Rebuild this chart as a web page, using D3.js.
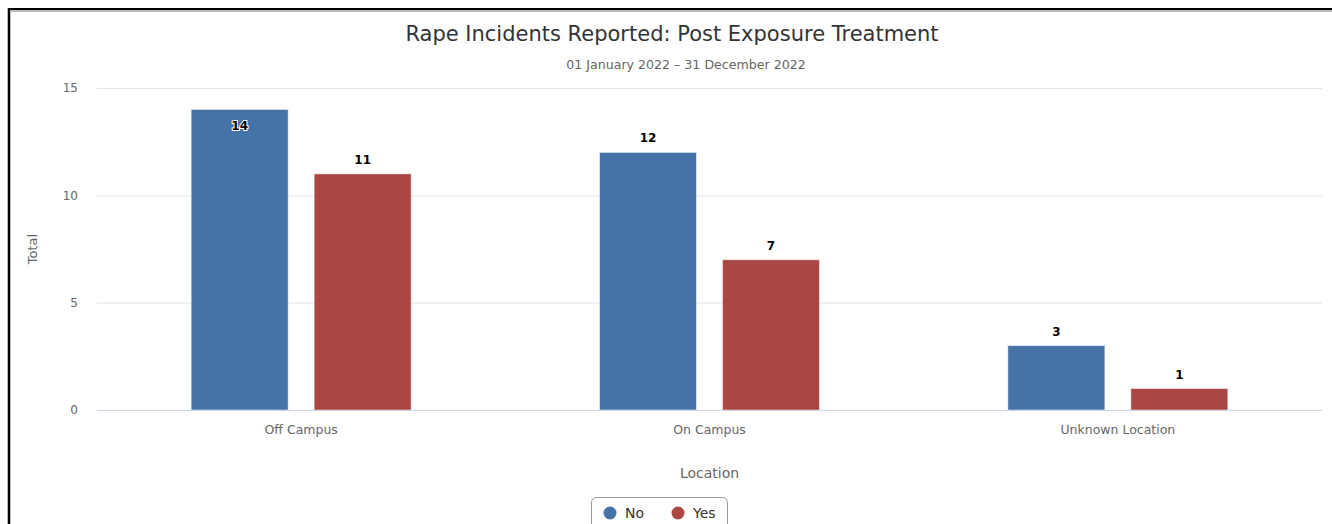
<!DOCTYPE html>
<html>
<head>
<meta charset="utf-8">
<script src="https://cdn.jsdelivr.net/npm/d3@7"></script>
<style>
  body { margin: 0; background: #fff; }
  text { font-family: "DejaVu Sans", Verdana, sans-serif; }
</style>
</head>
<body>
<div id="chart"></div>
<script>
// data
var categories = ["Off Campus", "On Campus", "Unknown Location"];
var seriesNames = ["No", "Yes"];
var noValues = [14, 12, 3];
var yesValues = [11, 7, 1];
var yTicks = [0, 5, 10, 15];

var color = d3.scaleOrdinal()
    .domain(seriesNames)
    .range(["#4572A7", "#AA4643"]);

var W = 1332, H = 524;
var margin = {top: 88, right: 10, bottom: 114, left: 97};
var width = 1322 - margin.left,
    height = 410 - margin.top;

var svg = d3.select("#chart").append("svg")
    .attr("width", W)
    .attr("height", H);

// frame
svg.append("path")
    .attr("d", "M9,524 L9,10 L1332,10")
    .attr("fill", "none")
    .attr("stroke", "#bbb")
    .attr("stroke-width", 4);
svg.append("path")
    .attr("d", "M9,524 L9,9 L1332,9")
    .attr("fill", "none")
    .attr("stroke", "#000")
    .attr("stroke-width", 2);

// titles
svg.append("text")
    .attr("x", 672).attr("y", 41)
    .attr("text-anchor", "middle")
    .style("font-size", "21px")
    .style("fill", "#333")
    .text("Rape Incidents Reported: Post Exposure Treatment");
svg.append("text")
    .attr("x", 686).attr("y", 69)
    .attr("text-anchor", "middle")
    .style("font-size", "12.6px")
    .style("fill", "#666")
    .text("01 January 2022 \u2013 31 December 2022");

var g = svg.append("g")
    .attr("transform", "translate(" + margin.left + "," + margin.top + ")");

var x0 = d3.scaleBand()
    .domain(categories)
    .range([0, width]);

var x1 = d3.scaleBand()
    .domain(seriesNames)
    .range([0, 220])
    .paddingInner(26 / 123);

var y = d3.scaleLinear()
    .domain([0, 15])
    .range([height, 0]);

// gridlines
g.selectAll(".grid")
    .data(yTicks.filter(function(d) { return d > 0; }))
    .enter().append("line")
    .attr("x1", 0).attr("x2", width)
    .attr("y1", function(d) { return y(d) + 0.5; })
    .attr("y2", function(d) { return y(d) + 0.5; })
    .attr("stroke", "#e6e6e6");

// y axis labels
var yAxis = g.append("g")
    .call(d3.axisLeft(y).tickValues(yTicks).tickSize(0).tickPadding(19));
yAxis.select(".domain").remove();
yAxis.selectAll("text")
    .style("font-size", "12px")
    .style("fill", "#666")
    .style("font-family", "DejaVu Sans, sans-serif");

// bars
var rows = categories.map(function(c, i) {
    return {cat: c, vals: [{s: "No", v: noValues[i]}, {s: "Yes", v: yesValues[i]}]};
});

var groups = g.selectAll(".cat")
    .data(rows)
    .enter().append("g")
    .attr("transform", function(d) {
        return "translate(" + (x0(d.cat) + (x0.bandwidth() - 220) / 2) + ",0)";
    });

groups.selectAll("rect")
    .data(function(d) { return d.vals; })
    .enter().append("rect")
    .attr("x", function(d) { return x1(d.s); })
    .attr("y", function(d) { return y(d.v); })
    .attr("width", x1.bandwidth())
    .attr("height", function(d) { return height - y(d.v); })
    .attr("fill", function(d) { return color(d.s); })
    .attr("stroke", "#fff")
    .attr("stroke-opacity", 0.5);

// data labels
groups.selectAll(".lbl")
    .data(function(d) { return d.vals; })
    .enter().append("text")
    .attr("x", function(d) { return x1(d.s) + x1.bandwidth() / 2; })
    .attr("y", function(d) {
        var top = y(d.v);
        return (top - 24 < 0) ? top + 21 : top - 10;
    })
    .attr("text-anchor", "middle")
    .style("font-size", "12px")
    .style("font-weight", "bold")
    .style("fill", "#000")
    .style("stroke", "#fff")
    .style("stroke-width", 2)
    .style("paint-order", "stroke")
    .text(function(d) { return d.v; });

// baseline
g.append("line")
    .attr("x1", 0).attr("x2", width)
    .attr("y1", height + 0.5).attr("y2", height + 0.5)
    .attr("stroke", "#ccd6eb");

// x axis labels
var xAxis = g.append("g")
    .attr("transform", "translate(0," + height + ")")
    .call(d3.axisBottom(x0).tickSize(0).tickPadding(15));
xAxis.select(".domain").remove();
xAxis.selectAll("text")
    .style("font-size", "12.5px")
    .style("fill", "#666")
    .style("font-family", "DejaVu Sans, sans-serif");

// axis titles
svg.append("text")
    .attr("x", margin.left + width / 2).attr("y", 478)
    .attr("text-anchor", "middle")
    .style("font-size", "14px")
    .style("fill", "#666")
    .text("Location");
svg.append("text")
    .attr("transform", "translate(37," + (margin.top + height / 2) + ") rotate(-90)")
    .attr("text-anchor", "middle")
    .style("font-size", "13px")
    .style("fill", "#666")
    .text("Total");

// legend
var legend = svg.append("g").attr("transform", "translate(591,497)");
legend.append("rect")
    .attr("x", 0.5).attr("y", 0.5)
    .attr("width", 136).attr("height", 36)
    .attr("rx", 5)
    .attr("fill", "#fff")
    .attr("stroke", "#999");
var items = legend.selectAll(".item")
    .data(seriesNames)
    .enter().append("g")
    .attr("transform", function(d, i) { return "translate(" + (19 + i * 68) + ",16)"; });
items.append("circle")
    .attr("r", 6.5)
    .attr("fill", function(d) { return color(d); });
items.append("text")
    .attr("x", 15).attr("y", 5)
    .style("font-size", "14px")
    .style("fill", "#333")
    .text(function(d) { return d; });
</script>
</body>
</html>
